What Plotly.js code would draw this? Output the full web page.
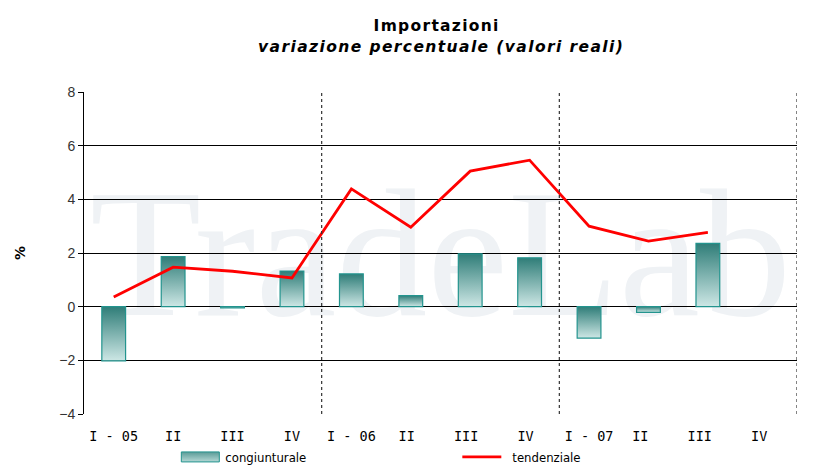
<!DOCTYPE html>
<html><head><meta charset="utf-8">
<script src="https://cdn.plot.ly/plotly-3.0.1.min.js"></script>
<style>body{margin:0;background:#fff}#c{width:827px;height:476px}</style>
</head><body><div id="c"></div>
<script>
const categories = ["I - 05","II","III","IV","I - 06","II ","III ","IV ","I - 07","II  ","III  ","IV  "];
const congiunturale = [-2.02, 1.87, -0.05, 1.33, 1.22, 0.41, 1.97, 1.82, -1.17, -0.21, 2.36, null];
const tendenziale = [0.36, 1.47, 1.32, 1.07, 4.39, 2.96, 5.05, 5.46, 3.0, 2.44, 2.77, null];
const yTicks = [-4,-2,0,2,4,6,8];

const traces = [
  {type:'bar', x:categories, y:congiunturale, name:'congiunturale', width:0.4,
   marker:{color:'#6fa9a6', line:{color:'#23948e', width:1.2}}},
  {type:'scatter', mode:'lines', x:categories, y:tendenziale, name:'tendenziale',
   line:{color:'#ff0000', width:2.8}}
];
const dash = {type:'line', xref:'x', yref:'paper', y0:0, y1:1, line:{color:'#333', width:1.2, dash:'3px,3px'}};
const layout = {
  width:827, height:476,
  margin:{l:84, r:30, t:92, b:62},
  paper_bgcolor:'#fff', plot_bgcolor:'#fff',
  font:{family:'DejaVu Sans, Verdana, sans-serif', color:'#000'},
  title:{text:'<b>Importazioni</b>', x:0.528, xanchor:'center', xref:'container', yref:'container', y:0.947, yanchor:'middle',
    font:{family:'DejaVu Sans, Verdana, sans-serif', size:15.5, color:'#000'}},
  xaxis:{type:'category', showgrid:false, zeroline:false, showline:false, ticks:'', ticklabelstandoff:12,
    tickfont:{family:'DejaVu Sans Mono, monospace', size:13.5, color:'#000'}, range:[-0.5,11.5], fixedrange:true},
  yaxis:{range:[-4,8], tickvals:yTicks, showgrid:true, gridcolor:'#000', gridwidth:1, zeroline:false,
    showline:true, linecolor:'#000', linewidth:1, ticks:'outside', ticklen:5, tickcolor:'#000',
    tickfont:{family:'Liberation Sans, Arial, sans-serif', size:14, color:'#333'},
    title:{text:'<b>%</b>', standoff:30, font:{size:14}}},
  bargap:0.6,
  showlegend:true,
  legend:{orientation:'h', xref:'container', yref:'container', x:0.212, y:0.04, xanchor:'left', yanchor:'middle', traceorder:'normal',
    font:{family:'DejaVu Sans Condensed, Liberation Sans Narrow, sans-serif', size:13}, itemwidth:40,
    entrywidth:232, entrywidthmode:'pixels', bgcolor:'rgba(0,0,0,0)'},
  shapes:[Object.assign({x0:3.5,x1:3.5},dash), Object.assign({x0:7.5,x1:7.5},dash), Object.assign({x0:11.5,x1:11.5},dash)],
  annotations:[
    {text:'<b><i>variazione percentuale (valori reali)</i></b>', xref:'paper', yref:'paper', x:0.5, y:1.141, yanchor:'middle', showarrow:false,
     font:{family:'DejaVu Sans, Verdana, sans-serif', size:15.5, color:'#000'}},
    {text:'TradeLab', xref:'paper', yref:'paper', x:0.5, y:0.5, showarrow:false,
    font:{family:'Liberation Serif, serif', size:182, color:'#eff2f5'}}]
};
Plotly.newPlot('c', traces, layout, {displayModeBar:false, staticPlot:true}).then(function(gd){
  const svg = gd.querySelector('svg.main-svg');
  const ns = 'http://www.w3.org/2000/svg';
  let defs = svg.querySelector('defs');
  function grad(id, c0, c1){
    const g = document.createElementNS(ns,'linearGradient');
    g.setAttribute('id',id); g.setAttribute('x1','0'); g.setAttribute('y1','0'); g.setAttribute('x2','0'); g.setAttribute('y2','1');
    [['0',c0],['1',c1]].forEach(function(s){
      const st = document.createElementNS(ns,'stop'); st.setAttribute('offset',s[0]); st.setAttribute('stop-color',s[1]); g.appendChild(st);
    });
    defs.appendChild(g);
  }
  grad('barGrad','#2f7d78','#cde7e5');
  grad('legGrad','#5a9b97','#b5d8d5');
  gd.querySelectorAll('.barlayer .point path').forEach(function(p){ p.style.fill='url(#barGrad)'; });
  const items = gd.querySelectorAll('.legend .traces');
  if(items[0]){
    const p = items[0].querySelector('.legendpoints path');
    if(p){ p.setAttribute('d','M19,5H-19V-5H19Z'); p.style.fill='url(#legGrad)'; p.style.strokeWidth='1px'; }
  }
  if(items[1]){
    const p = items[1].querySelector('.legendlines path');
    if(p){ p.setAttribute('d','M0,0h39'); }
  }
  const t = gd.querySelector('.gtitle'); if(t) t.style.letterSpacing='1.3px';
  const anns = gd.querySelectorAll('.annotation');
  anns.forEach(function(a){
    const txt = a.querySelector('text');
    if(!txt) return;
    if(txt.textContent.indexOf('variazione')===0){ txt.style.letterSpacing='1.4px'; }
    if(txt.textContent==='TradeLab'){
      const below = svg.querySelector('.layer-below');
      if(below) below.appendChild(a);
    }
  });
});
</script></body></html>
